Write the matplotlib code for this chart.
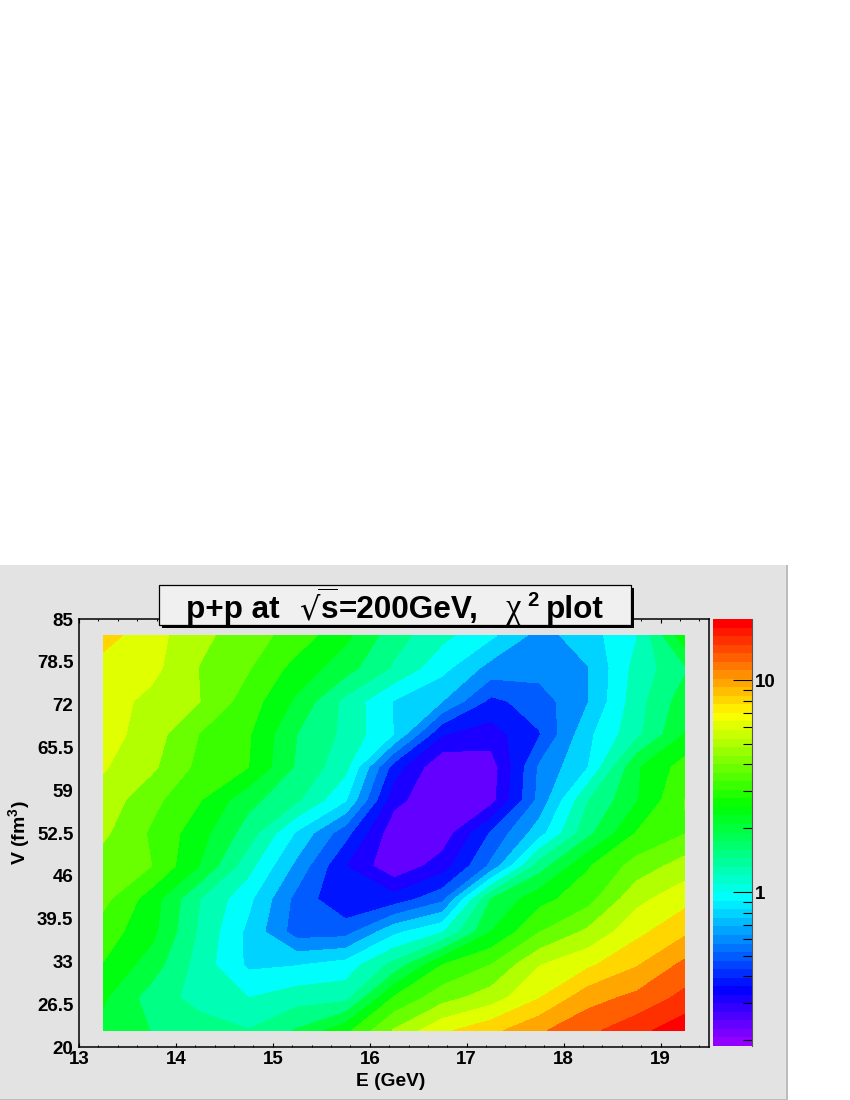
"""
p+p at sqrt(s)=200 GeV, chi2 map in the (E, V) plane, in the ROOT canvas look.
"""

import colorsys

import matplotlib

matplotlib.use("Agg")
import matplotlib.pyplot as plt
import numpy as np
from matplotlib.patches import Rectangle

plt.rcParams["font.family"] = ["Liberation Sans", "DejaVu Sans"]
plt.rcParams["font.weight"] = "bold"
plt.rcParams["mathtext.fontset"] = "custom"
plt.rcParams["mathtext.rm"] = "Liberation Sans:bold"
plt.rcParams["mathtext.bf"] = "Liberation Sans:bold"
plt.rcParams["mathtext.it"] = "Liberation Sans:bold"

W, H = 850, 1100
CANVAS_GREY = "#e3e3e3"

E_CENTERS = [13.25, 13.75, 14.25, 14.75, 15.25, 15.75, 16.25, 16.75, 17.25, 17.75, 18.25, 18.75, 19.25]
V_CENTERS = [22.5, 27.5, 32.5, 37.5, 42.5, 47.5, 52.5, 57.5, 62.5, 67.5, 72.5, 77.5, 82.5]

X_TICKS = [13, 14, 15, 16, 17, 18, 19]
Y_TICKS = [20, 26.5, 33, 39.5, 46, 52.5, 59, 65.5, 72, 78.5, 85]
Y_TICK_LABELS = ["20", "26.5", "33", "39.5", "46", "52.5", "59", "65.5", "72", "78.5", "85"]

# colour scale of the picture: log10(chi2) range and number of contours
LOG_MIN = -0.726
LOG_MAX = 1.288
N_CONTOURS = 20
N_PALETTE = 50

# chi2, written as position on the log scale in contour
# steps (0 = bottom of the colour bar, 20 = top). Rows go from V=22.5 to V=82.5.
CHI2_STEPS = [
    [9.7, 8.97, 8.5, 8.05, 9.1, 10.7, 13.1, 14.8, 15.7, 16.85, 17.75, 18.66, 19.7],
    [10.15, 8.55, 7.6, 7.0, 7.55, 7.65, 11.1, 12.6, 13.5, 14.95, 16.6, 17.25, 18.3],
    [10.95, 9.5, 7.55, 5.8, 5.95, 6.4, 8.3, 11.0, 12.0, 13.95, 14.8, 15.9, 17.25],
    [11.5, 10.3, 7.8, 5.75, 3.5, 3.58, 5.75, 6.9, 10.0, 11.95, 13.2, 14.7, 15.8],
    [12.3, 10.5, 8.0, 6.25, 3.65, 2.1, 2.4, 3.7, 9.0, 10.65, 11.6, 13.7, 14.65],
    [12.5, 12.0, 9.95, 7.35, 4.7, 2.0, 0.2, 1.5, 4.2, 8.5, 10.9, 12.4, 13.45],
    [13.2, 11.85, 10.4, 8.5, 5.85, 3.35, 0.3, 0.36, 3.1, 5.55, 8.7, 11.05, 11.95],
    [13.6, 12.3, 11.05, 9.3, 8.15, 6.1, 1.3, 0.15, 0.6, 4.3, 7.95, 9.9, 12.02],
    [14.1, 13.2, 11.7, 11.0, 8.85, 7.3, 2.5, 0.05, 0.45, 4.15, 5.97, 9.85, 11.45],
    [14.45, 13.5, 11.95, 11.1, 9.0, 7.75, 5.97, 2.05, 1.52, 2.93, 5.75, 7.7, 10.05],
    [14.5, 13.7, 13.0, 11.5, 9.8, 7.7, 5.95, 5.0, 2.73, 3.5, 4.95, 7.55, 9.55],
    [14.6, 14.3, 12.95, 12.07, 10.6, 9.42, 7.85, 6.3, 4.6, 4.4, 4.95, 7.35, 8.85],
    [15.4, 14.4, 13.25, 12.45, 11.55, 10.25, 8.43, 7.26, 6.2, 4.6, 5.55, 6.93, 10.7],
]


def px_box(left, top, right, bottom):
    """Figure-fraction box [x, y, w, h] from pixel edges."""
    return [left / W, 1 - bottom / H, (right - left) / W, (bottom - top) / H]


def fig_text(fig, x, y, s, **kw):
    fig.text(x / W, 1 - y / H, s, **kw)


def fig_rect(fig, left, top, right, bottom, **kw):
    box = px_box(left, top, right, bottom)
    fig.add_artist(Rectangle((box[0], box[1]), box[2], box[3], transform=fig.transFigure, **kw))


def palette_color(i):
    # ROOT palette 1: full saturation, hue from 280 down to 0
    hue = 280 - (min(i, N_PALETTE - 1) + 1) * 280 / N_PALETTE
    return colorsys.hls_to_rgb(hue / 360, 0.5, 1.0)


def main():
    fig = plt.figure(figsize=(W / 100, H / 100), dpi=100, facecolor="white")
    fig_rect(fig, 0, 565, 787, 1100, facecolor=CANVAS_GREY, edgecolor="none", zorder=-1)
    # canvas bevel: darker on the right and at the bottom
    fig_rect(fig, 786, 565, 787.5, 1100, facecolor="#bdbdbd", edgecolor="none", zorder=-1)
    fig_rect(fig, 0, 1098.5, 787, 1100, facecolor="#bdbdbd", edgecolor="none", zorder=-1)

    # main pad
    ax = fig.add_axes(px_box(79, 619, 709, 1047), facecolor=CANVAS_GREY)
    step = (LOG_MAX - LOG_MIN) / N_CONTOURS
    log_chi2 = LOG_MIN + np.array(CHI2_STEPS) * step
    levels = LOG_MIN + np.arange(N_CONTOURS + 1) * step
    colors = [palette_color(int(0.01 + (k + 1) * N_PALETTE / N_CONTOURS)) for k in range(N_CONTOURS)]
    ax.contourf(E_CENTERS, V_CENTERS, log_chi2, levels=levels, colors=colors)

    ax.set_xlim(13, 19.5)
    ax.set_ylim(20, 85)
    ax.set_xticks(X_TICKS)
    ax.set_xticks(np.arange(13, 19.5, 0.2), minor=True)
    ax.set_yticks(Y_TICKS)
    ax.set_yticklabels(Y_TICK_LABELS)
    ax.tick_params(axis="x", which="major", direction="in", length=3, width=0.8, top=True, labelsize=13.5, pad=3)
    ax.tick_params(axis="x", which="minor", direction="in", length=1.5, width=0.7, top=True)
    ax.tick_params(axis="y", which="major", length=0, labelsize=13.5, pad=4)
    for spine in ax.spines.values():
        spine.set_linewidth(1.1)

    fig_text(fig, 391, 1081, "E (GeV)", ha="center", va="center", fontsize=13.8)
    fig_text(fig, 19, 833, r"V (fm$^{\mathbf{3}}$)", ha="center", va="center", rotation=90, fontsize=14)

    # colour bar
    cax = fig.add_axes(px_box(713, 619, 752, 1046))
    edges = 10 ** np.linspace(LOG_MIN, LOG_MAX, N_PALETTE + 1)
    band_values = np.arange(N_PALETTE).reshape(-1, 1)
    cmap = matplotlib.colors.ListedColormap([palette_color(i) for i in range(N_PALETTE)])
    cax.pcolormesh([0, 1], edges, band_values, cmap=cmap, shading="flat")
    cax.set_yscale("log")
    cax.set_ylim(edges[0], edges[-1])
    cax.set_xticks([])
    cax.yaxis.tick_right()
    cax.set_yticks([1, 10])
    cax.set_yticklabels(["1", "10"])
    cax.set_yticks([0.2, 0.3, 0.4, 0.5, 0.6, 0.7, 0.8, 0.9, 2, 3, 4, 5, 6, 7, 8, 9], minor=True)
    cax.set_yticklabels([], minor=True)
    cax.tick_params(axis="y", which="major", direction="in", length=13.5, width=0.8, labelsize=13.5, pad=2)
    cax.tick_params(axis="y", which="minor", direction="in", length=6.8, width=0.8)
    for name, spine in cax.spines.items():
        spine.set_visible(name == "right")
    cax.spines["right"].set_color("#555555")

    # title box with its shadow
    fig_rect(fig, 162, 588, 634, 628, facecolor="black", edgecolor="none", zorder=2)
    fig_rect(fig, 158.5, 584.5, 631, 624.5, facecolor="#f0f0f0", edgecolor="black", linewidth=0.9, zorder=2.5)
    base = 618
    fig_text(fig, 186, base, "p+p at", ha="left", va="baseline", fontsize=22.7)
    fig_text(fig, 299.5, base + 1, "\u221a", ha="left", va="baseline", fontsize=23, family="DejaVu Sans", fontweight="normal")
    fig_rect(fig, 318, 588.5, 338, 590, facecolor="black", edgecolor="none", zorder=3)
    fig_text(fig, 320.5, base, "s", ha="left", va="baseline", fontsize=22.7)
    fig_text(fig, 339, base, "=200GeV,", ha="left", va="baseline", fontsize=22.7)
    fig_text(fig, 506, base, "\u03c7", ha="left", va="baseline", fontsize=25, family="Liberation Serif", fontweight="normal")
    fig_text(fig, 527, 606, "2", ha="left", va="baseline", fontsize=14.5)
    fig_text(fig, 546, base, "plot", ha="left", va="baseline", fontsize=22.7)

    fig.savefig("out.png", dpi=100)


if __name__ == "__main__":
    main()
